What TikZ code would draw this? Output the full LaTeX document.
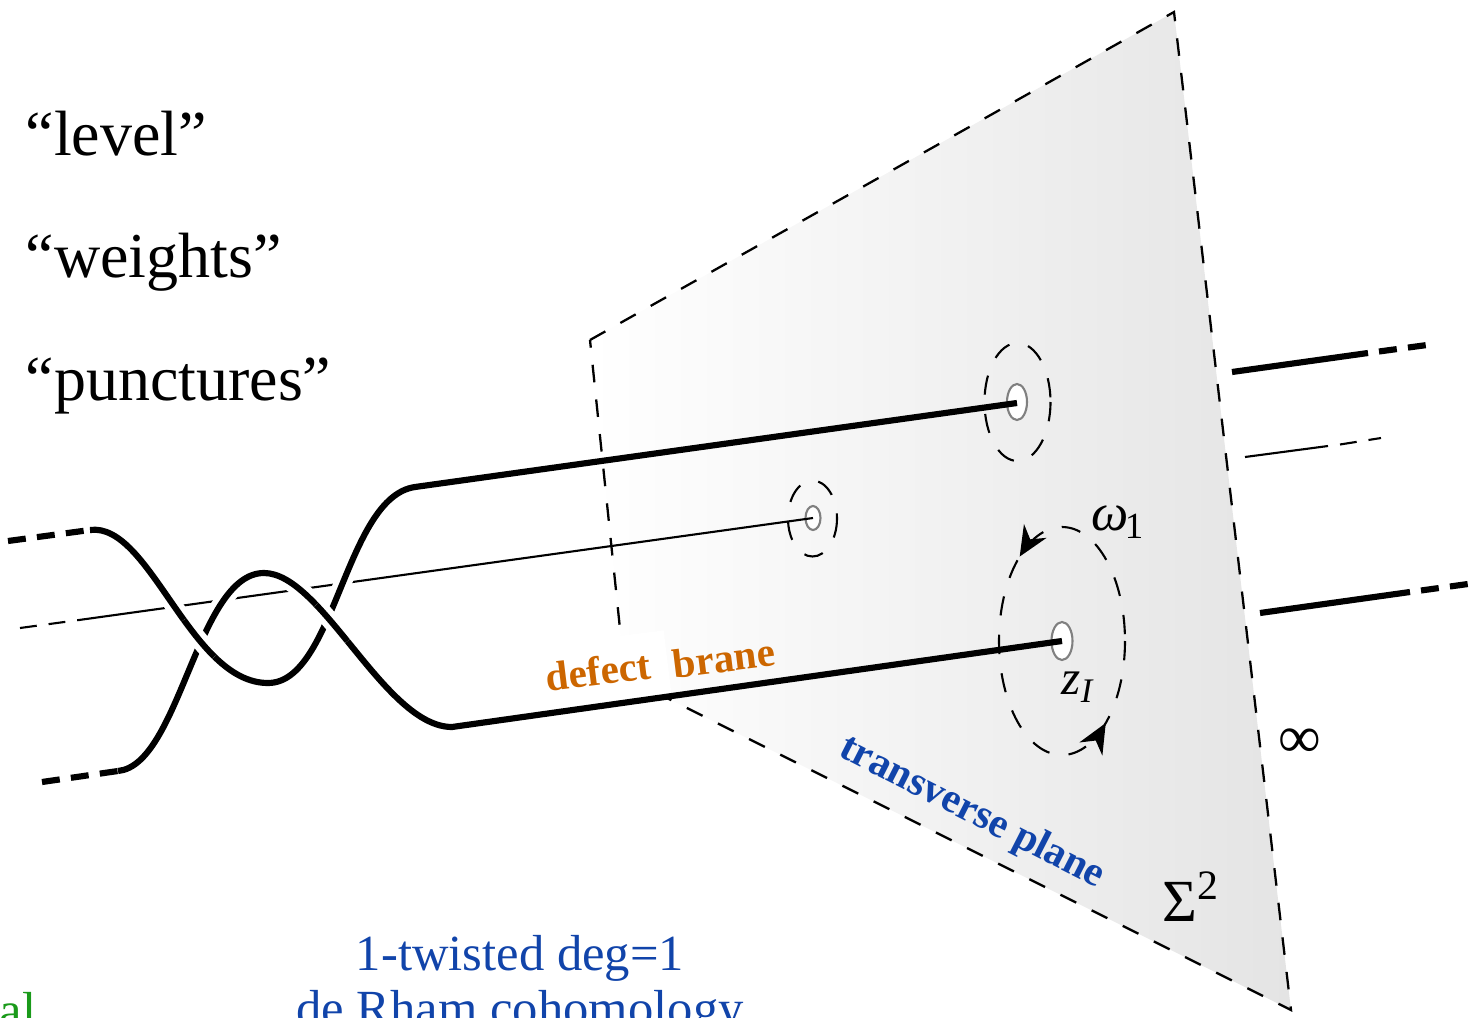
\documentclass[tikz,border=0pt]{standalone}
\usepackage{fontspec}
\setmainfont{Liberation Serif}
\usetikzlibrary{arrows.meta,decorations.markings}
\definecolor{planegray}{HTML}{E4E4E4}
\definecolor{defectorange}{HTML}{CC6600}
\definecolor{labelblue}{HTML}{1144AA}
\definecolor{labelgreen}{HTML}{1A9A1A}
\newcommand{\strandone}{(s1a) .. controls (150,522) and (190,683) .. (s1b) .. controls (335,683) and (345,497) .. (s1c)}
\newcommand{\strandtwo}{(s2a) .. controls (180,765) and (197,573) .. (s2b) .. controls (322,573) and (385,727) .. (s2c)}
\begin{document}
\begin{tikzpicture}[x=0.01cm,y=-0.01cm,
  thick strand/.style={line width=1.75pt},
  thin strand/.style={line width=0.6pt},
  halo/.style={white,line width=5pt},
  plane edge/.style={line width=0.65pt,dash pattern=on 5pt off 4.9pt},
  end dash/.style={dash pattern=on 5.1pt off 3.2pt},
  thin dash/.style={dash pattern=on 4.8pt off 3.4pt},
  loop/.style={line width=0.6pt,dash pattern=on 5.5pt off 5.5pt},
  hole/.style={draw=gray,fill=white,line width=0.6pt},
  quoted/.style={anchor=base west,inner sep=0pt,font=\fontsize{18.2}{22}\selectfont},
  bottom/.style={anchor=base,inner sep=0pt,font=\fontsize{14.4}{17}\selectfont,text=labelblue},
  brane text/.style={inner sep=0pt,font=\fontsize{11.7}{14}\selectfont\bfseries,text=defectorange},
  symbol/.style={inner sep=0pt}]
  \useasboundingbox (0,0) rectangle (1472,1018);
  \clip (0,0) rectangle (1472,1018);
  \coordinate (pa) at (590,340);
  \coordinate (pb) at (1174,12);
  \coordinate (pc) at (1291,1010);
  \coordinate (pd) at (625,677);
  \shade[left color=white,right color=planegray] (pa) -- (pb) -- (pc) -- (pd) -- cycle;
  \draw[plane edge] (pa) -- (pb) -- (pc) -- (pd) -- cycle;

  \node[quoted] (level) at (25,155) {“level”};
  \node[quoted] (weights) at (25,277) {“weights”};
  \node[quoted] (punctures) at (25,400) {“punctures”};
  \node[bottom] (twisted) at (520,970) {1-twisted deg=1};
  \node[bottom] (rham) at (520,1025) {de Rham cohomology};
  \node[bottom,anchor=base east,text=labelgreen] (green) at (37,1027) {ral};

  \node[brane text,rotate=7,fill=white,inner sep=5pt] (defect) at (598,671) {defect};
  \node[brane text,rotate=7] (brane) at (724,658) {brane};
  \node[rotate=-27,text=labelblue,inner sep=0pt,font=\fontsize{11.8}{14}\selectfont\bfseries] (transverse) at (972,813) {transverse plane};
  \node[symbol,font=\fontsize{17}{20}\selectfont] (sigma) at (1191,897) {Σ\textsuperscript{2}};
  \node[symbol,font=\fontsize{15}{18}\selectfont\itshape] (omega) at (1118,522) {ω\kern-1pt\textsubscript{\upshape 1}};
  \node[symbol,font=\fontsize{14}{17}\selectfont\itshape] (zone) at (1078,687) {z\textsubscript{I}};
  \node[symbol,font=\fontsize{17}{20}\selectfont] (infinity) at (1300,743) {∞};

  \draw[loop] (1017.5,402) ellipse [x radius=33,y radius=59];
  \draw[loop] (812.5,518.5) ellipse [x radius=24.5,y radius=38];
  \draw[loop,postaction={decorate},decoration={markings,
    mark=at position 0.150 with {\arrowreversed{Stealth[length=8.5pt,width=7.5pt]}},
    mark=at position 0.655 with {\arrowreversed{Stealth[length=8.5pt,width=7.5pt]}}}]
    (1062,641) ellipse [x radius=63,y radius=114];
  \draw[hole] (1017,402) ellipse [x radius=10,y radius=18];
  \draw[hole] (813,518) ellipse [x radius=7.5,y radius=12];
  \draw[hole] (1062,641) ellipse [x radius=10.5,y radius=19];

  \coordinate (t0) at (20,628);
  \coordinate (t1) at (79,620);
  \coordinate (t2) at (813,518);
  \coordinate (t3) at (1245,457);
  \coordinate (t4) at (1328,446);
  \coordinate (t5) at (1340,444.5);
  \coordinate (t6) at (1381,438);
  \draw[thin strand,thin dash] (t0) -- (t1);
  \draw[thin strand] (t1) -- (t2);
  \draw[thin strand] (t3) -- (t4);
  \draw[thin strand,thin dash] (t5) -- (t6);

  \coordinate (s1l) at (8,541);
  \coordinate (s1a) at (90,530);
  \coordinate (s1b) at (268,683);
  \coordinate (s1c) at (415,487);
  \coordinate (s1e) at (1017,403);
  \coordinate (s2l) at (42,782);
  \coordinate (s2a) at (118,771);
  \coordinate (s2b) at (264,573);
  \coordinate (s2c) at (452,727);
  \coordinate (s2e) at (1062,641);
  \coordinate (x1) at (197,640);
  \coordinate (x2) at (333,622);

  \draw[halo] \strandone;
  \draw[halo] \strandtwo;
  \draw[thick strand] \strandone -- (s1e);
  \draw[thick strand] \strandtwo -- (s2e);
  \foreach \a/\b in {s1l/s1a, s2l/s2a} {\draw[thick strand,end dash] (\a) -- (\b);}
  \begin{scope}
    \clip (x1) circle (24);
    \draw[halo] \strandone;
    \draw[thick strand] \strandone;
  \end{scope}
  \begin{scope}
    \clip (x2) circle (24);
    \draw[halo] \strandtwo;
    \draw[thick strand] \strandtwo;
  \end{scope}

  \coordinate (r1a) at (1232,372);
  \coordinate (r1b) at (1368,353);
  \coordinate (r1c) at (1379,351.5);
  \coordinate (r1d) at (1427,345);
  \coordinate (r2a) at (1260,613);
  \coordinate (r2b) at (1410,592);
  \coordinate (r2c) at (1421,590.5);
  \coordinate (r2d) at (1468,584);
  \foreach \a/\b in {r1a/r1b, r2a/r2b} {\draw[thick strand] (\a) -- (\b);}
  \foreach \a/\b in {r1c/r1d, r2c/r2d} {\draw[thick strand,end dash] (\a) -- (\b);}
\end{tikzpicture}
\end{document}
